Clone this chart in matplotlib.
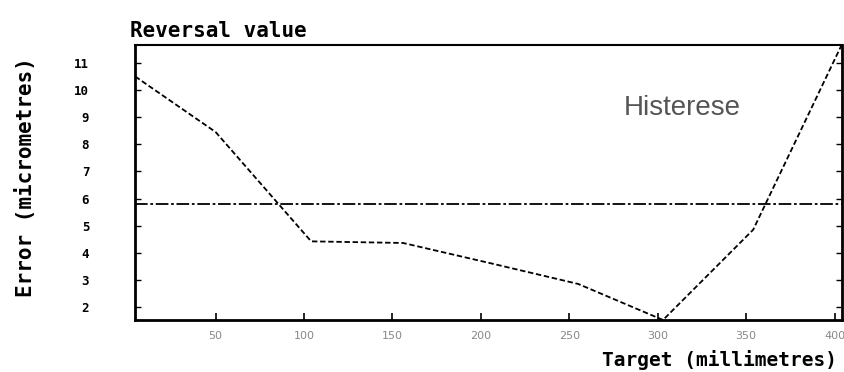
import matplotlib
matplotlib.use("Agg")
import matplotlib.pyplot as plt

# values
target_mm = [4.5, 50, 104, 156, 205, 255, 303, 354, 404]
error_um = [10.5, 8.45, 4.42, 4.36, 3.62, 2.85, 1.52, 4.85, 11.66]
reversal_level = 5.8

x_ticks = [50, 100, 150, 200, 250, 300, 350, 400]
y_ticks = [2, 3, 4, 5, 6, 7, 8, 9, 10, 11]

MONO = "DejaVu Sans Mono"

fig = plt.figure(figsize=(8.45, 3.72), dpi=100)
ax = fig.add_axes([0.1598, 0.1398, 0.8366, 0.7392])

ax.plot(target_mm, error_um, color="black", linewidth=1.3,
        linestyle=(0, (3, 1.5)))
ax.axhline(reversal_level, color="black", linewidth=1.3,
           linestyle=(0, (7, 1.5, 1.5, 1.5)))

ax.set_xlim(4.4, 404.2)
ax.set_ylim(1.52, 11.66)

ax.set_xticks(x_ticks)
ax.set_yticks(y_ticks)
ax.tick_params(axis="x", direction="in", length=5, width=1.2, pad=8,
               labelsize=8, labelcolor="#888888")
ax.tick_params(axis="y", direction="in", length=4, width=1, pad=33,
               labelsize=9, right=True)
for lab in ax.get_yticklabels():
    lab.set_family(MONO)
    lab.set_fontweight("bold")

for side in ["left", "bottom", "right"]:
    ax.spines[side].set_linewidth(2)
ax.spines["top"].set_linewidth(1.5)

fig.text(0.154, 0.918, "Reversal value", family=MONO, fontweight="bold",
         fontsize=15, ha="left", va="center")
fig.text(0.030, 0.525, "Error (micrometres)", family=MONO, fontweight="bold",
         fontsize=15, rotation=90, ha="center", va="center")
fig.text(0.990, 0.032, "Target (millimetres)", family=MONO, fontweight="bold",
         fontsize=14, ha="right", va="center")

ax.text(0.774, 0.771, "Histerese", transform=ax.transAxes,
        family="Liberation Sans", fontsize=20, color="#555555",
        ha="center", va="center")

fig.savefig("out.png", dpi=100)
